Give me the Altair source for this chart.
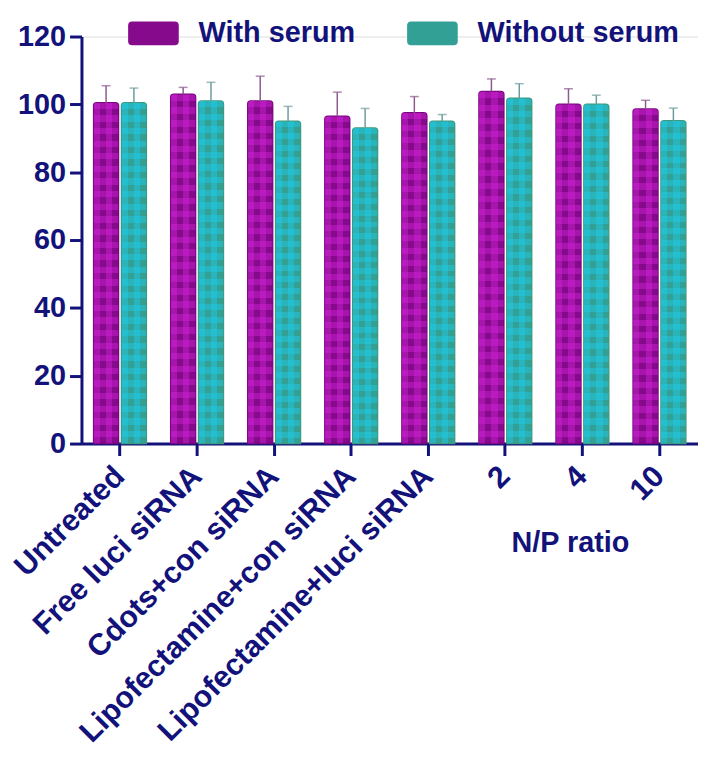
import altair as alt
import pandas as pd

categories = ["Untreated", "Free luci siRNA", "Cdots+con siRNA", "Lipofectamine+con siRNA",
              "Lipofectamine+luci siRNA", "2", "4", "10"]
series_names = ["With serum", "Without serum"]
with_serum = [100.5, 103.0, 101.0, 96.5, 97.5, 103.8, 100.0, 98.6]
with_err = [5.0, 2.0, 7.3, 7.1, 4.8, 3.7, 4.6, 2.6]
without_serum = [100.5, 101.0, 95.0, 93.0, 95.0, 101.8, 100.0, 95.2]
without_err = [4.3, 5.5, 4.4, 5.8, 2.0, 4.3, 2.7, 3.7]
y_ticks = [0, 20, 40, 60, 80, 100, 120]

rows = []
for i, c in enumerate(categories):
    rows.append({"cat": c, "series": series_names[0], "value": with_serum[i],
                 "top": with_serum[i] + with_err[i]})
    rows.append({"cat": c, "series": series_names[1], "value": without_serum[i],
                 "top": without_serum[i] + without_err[i]})
df = pd.DataFrame(rows)

NAVY = "#12127a"
BASE = ["#860a8c", "#33a096"]
LIGHT = ["#d424da", "#1ccfee"]
EDGE = ["#7a0680", "#3c9a80"]
ERRC = ["#8c5a8c", "#6e9c9c"]


def stripes(color, n, vertical):
    stops = []
    for i in range(n):
        col = color if i % 2 == 0 else "rgba(255,255,255,0)"
        stops.append(alt.GradientStop(offset=i / n, color=col))
        stops.append(alt.GradientStop(offset=(i + 1) / n, color=col))
    if vertical:
        return alt.LinearGradient(gradient="linear", stops=stops, x1=0, x2=0, y1=0, y2=1)
    return alt.LinearGradient(gradient="linear", stops=stops, x1=0, x2=1, y1=0, y2=0)


x_enc = alt.X("cat:N", sort=categories,
              scale=alt.Scale(domain=categories, paddingInner=0.316, paddingOuter=0.158),
              axis=alt.Axis(title=None, labelAngle=-45, labelAlign="right", labelBaseline="middle",
                            labelFontSize=30.5, labelFontWeight="bold", labelColor=NAVY,
                            domainColor=NAVY, domainWidth=3, tickColor=NAVY, tickWidth=3,
                            tickSize=12, labelPadding=16, labelLimit=1000, labelOverlap=False,
                            labelFlush=False))
xo_enc = alt.XOffset("series:N", sort=series_names,
                     scale=alt.Scale(domain=series_names, paddingInner=0.107, paddingOuter=0))
y_enc = alt.Y("value:Q", scale=alt.Scale(domain=[0, 120], nice=False),
              axis=alt.Axis(title=None, values=y_ticks, grid=False, labelFontSize=29,
                            labelFontWeight="bold", labelColor=NAVY, domainColor=NAVY,
                            domainWidth=3, tickColor=NAVY, tickWidth=3, tickSize=12,
                            labelPadding=4))

base = alt.Chart(df)

sym_path = ("M -0.84,-0.47 L 0.84,-0.47 Q 1,-0.47 1,-0.31 L 1,0.31 Q 1,0.47 0.84,0.47 "
            "L -0.84,0.47 Q -1,0.47 -1,0.31 L -1,-0.31 Q -1,-0.47 -0.84,-0.47 Z")

bars = base.mark_bar(cornerRadiusTopLeft=3, cornerRadiusTopRight=3, strokeWidth=1.5).encode(
    x=x_enc, xOffset=xo_enc, y=y_enc,
    color=alt.Color("series:N", sort=series_names,
                    scale=alt.Scale(domain=series_names, range=BASE),
                    legend=alt.Legend(title=None, orient="none", direction="horizontal",
                                      columns=2, legendX=47, legendY=-29, padding=0,
                                      symbolType=sym_path, symbolSize=2601,
                                      symbolStrokeWidth=0, symbolOpacity=1,
                                      labelFontSize=29, labelFontWeight="bold",
                                      labelColor=NAVY, labelOffset=20, columnPadding=52,
                                      labelLimit=1000)),
    stroke=alt.condition(alt.datum.series == series_names[0], alt.value(EDGE[0]), alt.value(EDGE[1])),
)

layers = [bars]
for k, s in enumerate(series_names):
    for vertical, n, op in [(True, 54, 0.42), (False, 4, 0.42)]:
        layers.append(
            base.transform_filter(alt.datum.series == s)
            .mark_bar(fill=stripes(LIGHT[k], n, vertical), opacity=op,
                      cornerRadiusTopLeft=3, cornerRadiusTopRight=3)
            .encode(x=x_enc, xOffset=xo_enc, y=y_enc)
        )

err_color = alt.condition(alt.datum.series == series_names[0], alt.value(ERRC[0]), alt.value(ERRC[1]))
rules = base.mark_rule(strokeWidth=1.5).encode(
    x=x_enc, xOffset=xo_enc, y=y_enc, y2="top:Q", color=err_color)
caps = base.mark_tick(orient="horizontal", size=9, thickness=1.5).encode(
    x=x_enc, xOffset=xo_enc, y=alt.Y("top:Q"), color=err_color)

np_label = alt.Chart(pd.DataFrame({"t": ["N/P ratio"]})).mark_text(
    fontSize=29, fontWeight="bold", color=NAVY, align="center", baseline="middle", dx=-12
).encode(x=alt.datum("4"), y=alt.value(510), text="t:N")

chart = alt.layer(*layers, rules, caps, np_label).properties(
    width=621, height=410,
    autosize=alt.AutoSizeParams(type="none"),
    padding={"left": 74, "top": 26, "right": 0, "bottom": 316},
).configure_view(stroke=None).configure(font="Liberation Sans")

chart.save("out.html", embed_options={"renderer": "svg", "actions": False})
